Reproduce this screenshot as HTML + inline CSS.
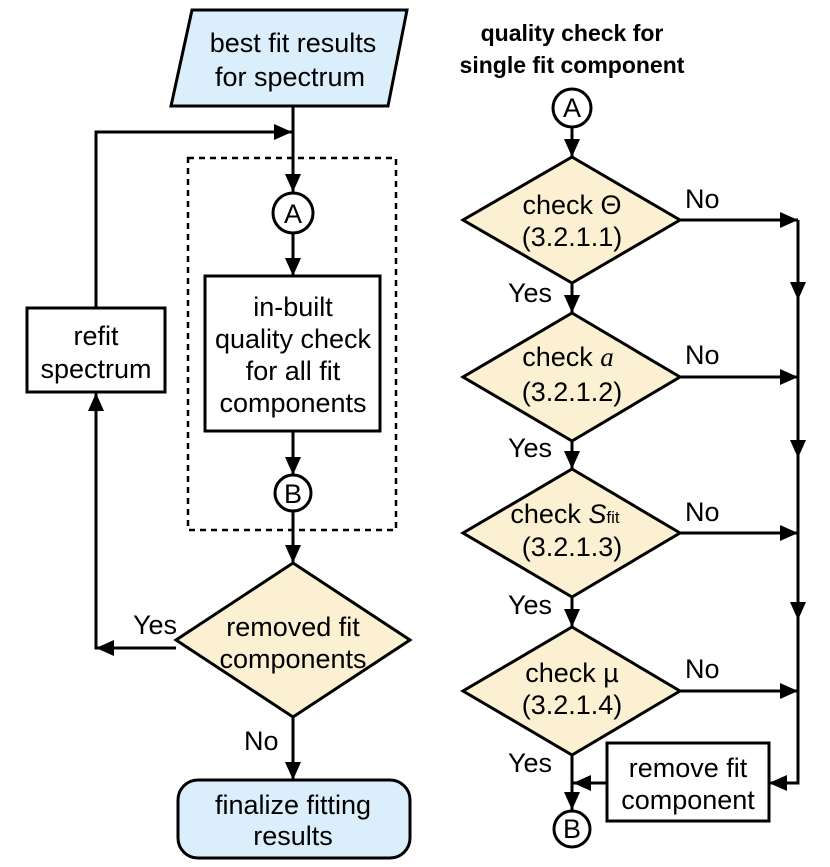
<!DOCTYPE html>
<html><head><meta charset="utf-8"><style>
html,body{margin:0;padding:0;background:#fff;}
svg{display:block;font-family:"Liberation Sans",Arial,sans-serif;}
text{font-size:27px;fill:#000;}
</style></head><body>
<svg width="830" height="867" viewBox="0 0 830 867" xmlns="http://www.w3.org/2000/svg">
<defs>
<marker id="ar2" markerWidth="18" markerHeight="16" refX="18" refY="8" orient="auto" markerUnits="userSpaceOnUse" viewBox="0 0 18 16">
<path d="M0,0 L18,8 L0,16 z" fill="#000"/></marker>
</defs>
<g stroke="#000" stroke-width="3" fill="none">
<polygon points="192,10 407,10 388,106 171,106" fill="#dbeefc"/>
<line x1="293" y1="106" x2="293" y2="192" marker-end="url(#ar2)"/>
<polyline points="96,308 96,132 292,132" marker-end="url(#ar2)"/>
<rect x="188" y="158" width="208" height="372" stroke-width="2.5" stroke-dasharray="6,5"/>
<circle cx="293" cy="213" r="20"/>
<line x1="293" y1="233" x2="293" y2="276" marker-end="url(#ar2)"/>
<rect x="205" y="276" width="175" height="155"/>
<line x1="293" y1="431" x2="293" y2="475" marker-end="url(#ar2)"/>
<circle cx="293" cy="493" r="18"/>
<line x1="293" y1="511" x2="293" y2="563" marker-end="url(#ar2)"/>
<polygon points="293,563 410,640 293,717 176,640" fill="#fbf0d2"/>
<polyline points="176,648 96,648 96,393" marker-end="url(#ar2)"/>
<line x1="176" y1="648" x2="96" y2="648" marker-end="url(#ar2)"/>
<rect x="27" y="308" width="138" height="84"/>
<line x1="293" y1="717" x2="293" y2="780" marker-end="url(#ar2)"/>
<rect x="178" y="780" width="232" height="78" rx="20" fill="#dbeefc"/>
<circle cx="572" cy="108" r="19"/>
<line x1="572" y1="127" x2="572" y2="157" marker-end="url(#ar2)"/>
<polygon points="572,157 680,220 572,283 463,220" fill="#fbf0d2"/>
<line x1="572" y1="283" x2="572" y2="313" marker-end="url(#ar2)"/>
<polygon points="572,313 680,377 572,441 463,377" fill="#fbf0d2"/>
<line x1="572" y1="441" x2="572" y2="469" marker-end="url(#ar2)"/>
<polygon points="572,469 680,533 572,597 463,533" fill="#fbf0d2"/>
<line x1="572" y1="597" x2="572" y2="627" marker-end="url(#ar2)"/>
<polygon points="572,627 680,691 572,755 463,691" fill="#fbf0d2"/>
<line x1="572" y1="755" x2="572" y2="810" marker-end="url(#ar2)"/>
<circle cx="572" cy="829" r="18"/>
<line x1="680" y1="220" x2="798" y2="220" marker-end="url(#ar2)"/>
<line x1="680" y1="377" x2="798" y2="377" marker-end="url(#ar2)"/>
<line x1="680" y1="533" x2="798" y2="533" marker-end="url(#ar2)"/>
<line x1="680" y1="691" x2="798" y2="691" marker-end="url(#ar2)"/>
<line x1="798" y1="220" x2="798" y2="300" marker-end="url(#ar2)"/>
<line x1="798" y1="296" x2="798" y2="458" marker-end="url(#ar2)"/>
<line x1="798" y1="453" x2="798" y2="620" marker-end="url(#ar2)"/>
<polyline points="798,615 798,783 769,783" marker-end="url(#ar2)"/>
<rect x="607" y="743" width="162" height="78"/>
<line x1="607" y1="783" x2="573" y2="783" marker-end="url(#ar2)"/>
</g>
<g text-anchor="middle">
<text x="293" y="52">best fit results</text>
<text x="290" y="86">for spectrum</text>
<text x="293" y="223">A</text>
<text x="293" y="316">in-built</text>
<text x="293" y="348">quality check</text>
<text x="293" y="380">for all fit</text>
<text x="293" y="412">components</text>
<text x="293" y="503">B</text>
<text x="96" y="345">refit</text>
<text x="96" y="378">spectrum</text>
<text x="293" y="636">removed fit</text>
<text x="293" y="668">components</text>
<text x="293" y="814">finalize fitting</text>
<text x="293" y="845">results</text>
<text x="572" y="41" style="font-weight:bold;font-size:23px">quality check for</text>
<text x="572" y="73" style="font-weight:bold;font-size:23px">single fit component</text>
<text x="572" y="117">A</text>
<text x="572" y="214">check Θ</text>
<text x="572" y="246">(3.2.1.1)</text>
<text x="568" y="366">check <tspan style="font-family:'Liberation Serif',serif;font-style:italic">a</tspan></text>
<text x="572" y="401">(3.2.1.2)</text>
<text x="565" y="523">check <tspan font-style="italic">S</tspan><tspan style="font-size:17px">fit</tspan></text>
<text x="572" y="556">(3.2.1.3)</text>
<text x="572" y="682">check µ</text>
<text x="572" y="714">(3.2.1.4)</text>
<text x="572" y="838">B</text>
<text x="688" y="777">remove fit</text>
<text x="688" y="809">component</text>
</g>
<text x="133" y="634">Yes</text>
<text x="244" y="750">No</text>
<text x="508" y="302">Yes</text>
<text x="508" y="457">Yes</text>
<text x="508" y="614">Yes</text>
<text x="508" y="772">Yes</text>
<text x="685" y="208">No</text>
<text x="685" y="364">No</text>
<text x="685" y="521">No</text>
<text x="685" y="678">No</text>
</svg>
</body></html>
